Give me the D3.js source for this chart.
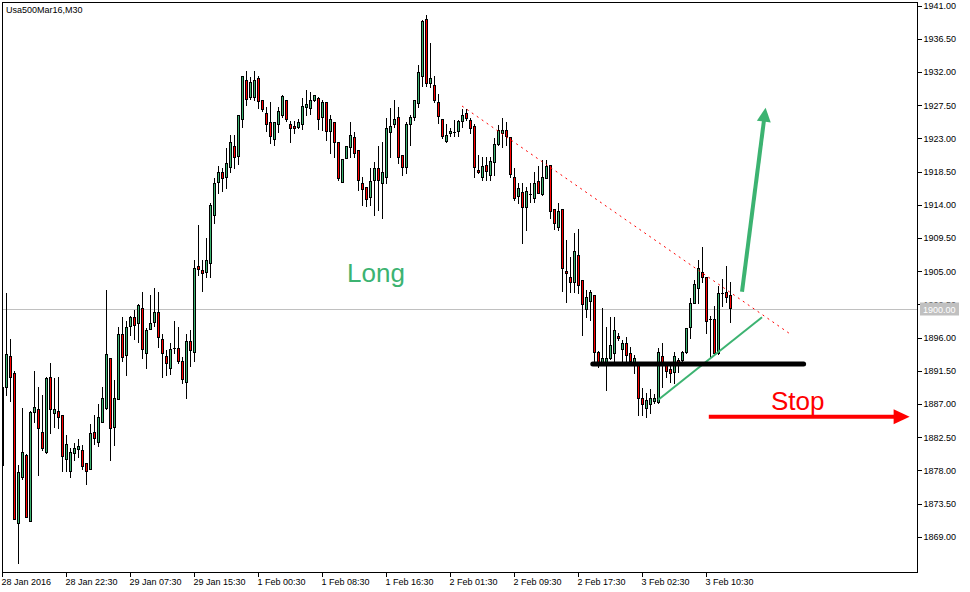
<!DOCTYPE html>
<html><head><meta charset="utf-8">
<script src="https://cdn.jsdelivr.net/npm/d3@7"></script>
<style>
html,body{margin:0;padding:0;background:#fff;}
svg{display:block;}
text{font-family:"Liberation Sans",Arial,sans-serif;}
</style></head>
<body>
<script>
// ---- DATA ----
const title = "Usa500Mar16,M30";
const open = [1878.80,1889.33,1893.57,1891.23,1870.98,1877.14,1880.16,1871.26,1886.02,1886.35,1883.23,1880.52,1890.77,1885.81,1886.08,1885.58,1879.57,1878.03,1880.47,1881.01,1880.84,1879.03,1878.26,1883.23,1881.96,1884.67,1886.49,1893.26,1883.99,1887.75,1896.55,1893.75,1897.68,1898.90,1898.00,1900.04,1894.02,1897.30,1898.22,1899.49,1895.83,1893.57,1891.99,1894.70,1894.70,1892.94,1890.01,1895.60,1894.16,1905.77,1905.23,1905.00,1906.21,1912.68,1917.19,1918.46,1917.87,1919.22,1922.03,1920.71,1925.64,1930.97,1928.71,1928.71,1931.20,1928.26,1926.46,1925.24,1922.93,1924.97,1926.19,1928.26,1924.97,1924.74,1924.64,1924.97,1927.35,1927.22,1928.26,1928.49,1925.92,1927.95,1924.06,1925.24,1922.53,1917.19,1920.44,1921.93,1923.25,1921.44,1917.01,1916.43,1915.16,1917.42,1919.00,1916.97,1917.87,1923.96,1924.97,1925.92,1920.81,1919.22,1924.97,1925.92,1927.89,1931.51,1939.20,1930.60,1930.25,1927.95,1925.64,1922.66,1923.75,1923.96,1924.10,1925.46,1926.46,1925.55,1924.74,1918.78,1917.87,1919.45,1918.10,1919.90,1922.26,1923.75,1924.19,1923.21,1917.79,1915.25,1915.75,1913.72,1915.52,1914.94,1917.28,1915.48,1917.73,1919.45,1913.45,1911.01,1913.49,1905.09,1904.32,1903.64,1907.26,1903.87,1899.94,1901.02,1901.84,1894.16,1892.80,1892.80,1893.26,1894.02,1896.29,1894.48,1895.29,1894.02,1892.58,1892.66,1887.84,1886.49,1887.07,1887.52,1887.30,1893.57,1892.35,1891.81,1891.45,1893.03,1893.03,1894.07,1897.46,1900.80,1902.74,1905.00,1904.24,1898.55,1898.55,1893.94,1902.15,1902.20,1901.84];
const high = [1889.37,1902.07,1895.83,1891.58,1878.80,1886.53,1880.30,1886.10,1891.58,1889.33,1888.29,1890.70,1892.58,1890.63,1890.77,1885.65,1882.87,1881.07,1881.82,1882.28,1881.51,1879.11,1884.32,1885.58,1887.07,1889.33,1902.51,1893.30,1890.32,1897.54,1898.90,1898.36,1898.99,1899.81,1900.62,1902.28,1897.33,1901.84,1902.74,1902.20,1896.55,1894.38,1895.29,1898.31,1897.54,1893.40,1896.55,1897.10,1906.58,1911.32,1906.58,1909.52,1914.30,1917.65,1919.36,1919.00,1921.72,1923.52,1923.52,1926.20,1931.50,1932.19,1931.42,1932.19,1931.51,1928.30,1927.35,1927.99,1925.30,1927.35,1928.94,1928.30,1925.41,1925.41,1925.68,1928.49,1929.62,1929.39,1928.94,1928.71,1928.26,1928.00,1926.23,1925.30,1922.60,1920.30,1922.07,1925.32,1923.96,1921.50,1917.87,1916.51,1919.00,1919.90,1922.07,1922.61,1925.78,1927.14,1928.26,1927.35,1920.85,1925.32,1926.23,1928.30,1933.00,1939.05,1939.78,1936.02,1931.51,1929.03,1925.68,1925.01,1924.51,1925.55,1925.55,1927.04,1927.04,1925.78,1925.01,1920.81,1920.58,1920.58,1920.58,1923.07,1924.87,1925.78,1925.24,1923.29,1919.00,1917.01,1917.01,1916.51,1916.97,1918.54,1919.32,1920.13,1920.13,1919.50,1913.49,1914.26,1913.55,1909.29,1907.03,1910.20,1910.74,1903.90,1902.51,1902.51,1901.90,1894.20,1900.04,1897.54,1898.82,1898.82,1896.65,1895.74,1896.11,1894.75,1893.71,1892.70,1889.20,1888.52,1889.06,1888.42,1894.62,1895.29,1892.80,1892.80,1894.16,1893.26,1894.29,1897.40,1901.39,1903.87,1906.58,1908.38,1904.30,1898.99,1900.35,1903.10,1904.01,1905.77,1903.56];
const low = [1878.80,1888.29,1887.52,1871.45,1865.56,1876.91,1871.70,1871.20,1884.67,1877.45,1880.84,1880.45,1883.18,1883.99,1883.78,1878.03,1878.03,1877.22,1879.48,1879.93,1878.26,1876.23,1878.22,1881.65,1881.42,1884.60,1886.40,1879.48,1881.51,1887.70,1892.94,1891.00,1896.42,1895.83,1895.43,1893.26,1891.99,1897.23,1897.64,1894.83,1890.77,1891.00,1891.09,1894.02,1892.58,1889.95,1887.92,1892.22,1892.94,1904.55,1902.42,1904.24,1904.24,1911.64,1915.70,1915.97,1916.30,1918.54,1919.00,1919.59,1924.64,1927.58,1928.40,1928.26,1927.14,1926.77,1924.10,1922.47,1922.16,1923.96,1926.00,1925.41,1922.61,1923.75,1924.51,1924.33,1926.23,1926.32,1928.16,1924.33,1924.19,1922.84,1921.12,1920.58,1917.42,1917.11,1920.36,1920.58,1920.58,1916.07,1914.03,1913.90,1914.03,1912.68,1913.36,1912.23,1916.97,1920.50,1924.64,1919.68,1918.10,1918.41,1922.16,1925.55,1927.35,1930.16,1930.16,1929.98,1928.03,1925.10,1923.11,1922.61,1923.42,1923.42,1923.42,1924.64,1925.55,1923.75,1917.87,1918.33,1917.42,1917.42,1917.42,1918.10,1922.16,1921.93,1922.16,1917.87,1914.71,1914.26,1908.92,1910.64,1914.48,1914.48,1915.62,1915.39,1917.69,1912.23,1910.74,1910.64,1902.38,1900.93,1902.28,1902.28,1902.07,1896.42,1898.82,1898.45,1892.58,1892.12,1892.58,1888.96,1893.20,1892.80,1895.74,1892.80,1892.80,1892.80,1891.23,1885.58,1885.58,1885.35,1885.81,1887.16,1887.16,1889.41,1890.77,1890.09,1889.95,1891.45,1892.80,1893.94,1895.97,1900.71,1900.71,1903.64,1896.73,1893.48,1893.94,1893.84,1900.35,1900.93,1898.22];
const close = [1889.37,1893.84,1890.77,1871.49,1877.81,1880.52,1871.80,1886.02,1886.70,1883.78,1881.07,1890.63,1886.35,1886.35,1885.27,1880.06,1881.65,1880.52,1881.07,1881.38,1878.71,1878.03,1883.10,1882.50,1885.31,1887.88,1893.84,1883.78,1887.88,1896.55,1893.48,1897.46,1898.82,1897.73,1900.55,1894.48,1897.10,1898.00,1899.49,1896.19,1894.02,1892.58,1894.48,1894.70,1892.94,1890.50,1895.56,1894.38,1905.46,1905.40,1904.78,1906.58,1914.03,1917.05,1918.46,1917.73,1919.68,1922.53,1920.50,1926.19,1931.47,1928.44,1930.70,1930.97,1928.16,1927.00,1924.97,1923.42,1925.24,1926.77,1928.76,1925.64,1924.43,1924.43,1925.24,1927.45,1927.72,1928.26,1928.94,1925.64,1927.99,1924.06,1925.68,1922.53,1917.73,1920.27,1921.99,1923.52,1921.12,1917.42,1916.24,1914.89,1917.28,1919.00,1917.42,1918.46,1924.47,1924.74,1925.68,1920.50,1919.22,1925.01,1926.00,1928.26,1932.01,1939.00,1930.60,1931.20,1928.26,1926.13,1923.42,1923.48,1924.02,1923.96,1925.46,1926.23,1925.86,1924.43,1919.22,1918.46,1919.32,1918.71,1919.95,1922.27,1924.19,1924.19,1923.42,1918.19,1914.94,1916.30,1913.72,1915.97,1915.52,1916.97,1915.70,1917.79,1919.32,1913.22,1911.55,1913.18,1905.46,1904.78,1903.64,1907.76,1903.19,1900.62,1901.61,1902.28,1894.16,1892.80,1893.26,1893.26,1895.06,1897.10,1895.97,1895.29,1893.71,1892.94,1893.34,1887.84,1887.07,1887.61,1887.84,1887.84,1894.07,1892.66,1891.58,1891.23,1893.57,1892.66,1894.07,1897.33,1900.80,1903.29,1905.46,1904.24,1898.31,1898.55,1894.02,1902.11,1902.15,1901.52,1900.04];
const currentPrice = 1900.00;
const yTickValues = [1869.0,1873.5,1878.0,1882.5,1887.0,1891.5,1896.0,1900.5,1905.0,1909.5,1914.0,1918.5,1923.0,1927.5,1932.0,1936.5,1941.0];
const xTickIndex = [0,16,32,48,64,80,96,112,128,144,160,176];
const xTickLabels = ["28 Jan 2016","28 Jan 22:30","29 Jan 07:30","29 Jan 15:30","1 Feb 00:30","1 Feb 08:30","1 Feb 16:30","2 Feb 01:30","2 Feb 09:30","2 Feb 17:30","3 Feb 02:30","3 Feb 10:30"];
// annotations (bar index, price)
const resistanceLine = [[115,1927.45],[196.7,1896.69]];
const supportLine = [[164,1887.61],[190,1898.82]];
const stopLine = [[147.7,1892.49],[200.4,1892.49]];
const longArrow = [[185,1902.28],[190.9,1927.22]];
const stopArrow = [[176.7,1885.35],[226.9,1885.35]];
const longLabel = {text:"Long", at:[86.25,1903.6]};
const stopLabel = {text:"Stop", at:[192.25,1886.25]};

// ---- CHART ----
const W = 970, H = 592;
const L = 2, R = 917, T = 2, B = 572;
const GREEN = "#3cb371", RED = "#ff0000";
const svg = d3.select("body").append("svg").attr("width", W).attr("height", H);

const x = d3.scaleLinear().domain([0, 228]).range([2, 914]);
const y = d3.scaleLinear().domain([1869, 1941]).range([537.4, 6]);

const bars = open.map((o, i) => ({i, o, h: high[i], l: low[i], c: close[i]}));

const plot = svg.append("g");
// clip
svg.append("defs").append("clipPath").attr("id","clip")
  .append("rect").attr("x", L+1).attr("y", T+1).attr("width", R-L-1).attr("height", B-T-1);
plot.attr("clip-path","url(#clip)");

// current price line
plot.append("line").attr("x1", L).attr("x2", R)
  .attr("y1", Math.round(y(currentPrice)) + 0.5).attr("y2", Math.round(y(currentPrice)) + 0.5)
  .attr("stroke", "#c0c0c0").attr("stroke-width", 1);

// candles
const cg = plot.append("g").attr("shape-rendering","crispEdges");
bars.forEach(d => {
  const cx = Math.round(x(d.i));
  const yh = Math.round(y(d.h)), yl = Math.round(y(d.l));
  const yt = Math.round(y(Math.max(d.o, d.c))), yb = Math.round(y(Math.min(d.o, d.c)));
  cg.append("rect").attr("x", cx).attr("y", yh).attr("width", 1).attr("height", Math.max(1, yl - yh + 1)).attr("fill", "#000");
  const hgt = Math.max(1, yb - yt + 1);
  cg.append("rect").attr("x", cx - 1).attr("y", yt).attr("width", 3).attr("height", hgt).attr("fill", "#000");
  if (hgt >= 3 && d.c !== d.o) {
    cg.append("rect").attr("x", cx).attr("y", yt + 1).attr("width", 1).attr("height", hgt - 2)
      .attr("fill", d.c > d.o ? GREEN : RED);
  }
});

const px = p => [x(p[0]), y(p[1])];
// red dotted resistance
const rl = resistanceLine.map(px);
plot.append("line").attr("x1", rl[0][0]).attr("y1", rl[0][1]).attr("x2", rl[1][0]).attr("y2", rl[1][1])
  .attr("stroke", RED).attr("stroke-width", 1).attr("stroke-dasharray", "2,4");
// green support
const sl = supportLine.map(px);
plot.append("line").attr("x1", sl[0][0]).attr("y1", sl[0][1]).attr("x2", sl[1][0]).attr("y2", sl[1][1])
  .attr("stroke", GREEN).attr("stroke-width", 2);
// black stop level
const bl = stopLine.map(px);
plot.append("line").attr("x1", bl[0][0]).attr("y1", bl[0][1]).attr("x2", bl[1][0]).attr("y2", bl[1][1])
  .attr("stroke", "#000").attr("stroke-width", 5).attr("stroke-linecap", "round");

function arrow(pts, color, width, headLen, headHalf) {
  const [a, b] = pts.map(px);
  const dx = b[0] - a[0], dy = b[1] - a[1], len = Math.hypot(dx, dy);
  const ux = dx / len, uy = dy / len, nx = -uy, ny = ux;
  const base = [b[0] - ux * headLen, b[1] - uy * headLen];
  plot.append("line").attr("x1", a[0]).attr("y1", a[1]).attr("x2", base[0] + ux).attr("y2", base[1] + uy)
    .attr("stroke", color).attr("stroke-width", width);
  plot.append("path").attr("d", d3.line()([b, [base[0] + nx * headHalf, base[1] + ny * headHalf], [base[0] - nx * headHalf, base[1] - ny * headHalf]]) + "Z")
    .attr("fill", color);
}
arrow(longArrow, GREEN, 4, 14, 7);
arrow(stopArrow, RED, 4, 16, 7.5);

// text labels
plot.append("text").attr("x", x(longLabel.at[0])).attr("y", y(longLabel.at[1]))
  .attr("font-size", 26).attr("fill", GREEN).text(longLabel.text);
plot.append("text").attr("x", x(stopLabel.at[0])).attr("y", y(stopLabel.at[1]))
  .attr("font-size", 26).attr("fill", RED).text(stopLabel.text);

// frame
svg.append("rect").attr("x", L + 0.5).attr("y", T + 0.5).attr("width", R - L).attr("height", B - T)
  .attr("fill", "none").attr("stroke", "#000").attr("stroke-width", 1);

// title
svg.append("text").attr("x", 6).attr("y", 13).attr("font-size", 9).attr("fill", "#000").text(title);

// y axis (right)
const yAxis = svg.append("g").attr("transform", `translate(${R + 0.5},0)`)
  .call(d3.axisRight(y).tickValues(yTickValues).tickFormat(d3.format(".2f")).tickSize(4).tickPadding(2).offset(0));
yAxis.select(".domain").remove();
yAxis.selectAll("line").attr("stroke", "#000").attr("shape-rendering", "crispEdges");
yAxis.selectAll("text").attr("font-size", 9).attr("font-family", "Liberation Sans, Arial, sans-serif").attr("fill", "#000");

// current price box
const cpY = y(currentPrice);
svg.append("rect").attr("x", 920).attr("y", Math.round(cpY) - 6.5).attr("width", 39).attr("height", 13).attr("fill", "#c0c0c0");
svg.append("text").attr("x", 923).attr("y", Math.round(cpY) + 3.5).attr("font-size", 9).attr("fill", "#fff").text(d3.format(".2f")(currentPrice));

// x axis
const xAxis = svg.append("g").attr("transform", `translate(0.5,${B + 0.5})`)
  .call(d3.axisBottom(x).tickValues(xTickIndex).tickFormat((d, k) => xTickLabels[k]).tickSize(4).tickPadding(2).offset(0));
xAxis.select(".domain").remove();
xAxis.selectAll("line").attr("stroke", "#000").attr("shape-rendering", "crispEdges");
xAxis.selectAll("text").attr("font-size", 9).attr("font-family", "Liberation Sans, Arial, sans-serif")
  .attr("fill", "#000").attr("text-anchor", "start").attr("dx", -1);
</script>
</body></html>
